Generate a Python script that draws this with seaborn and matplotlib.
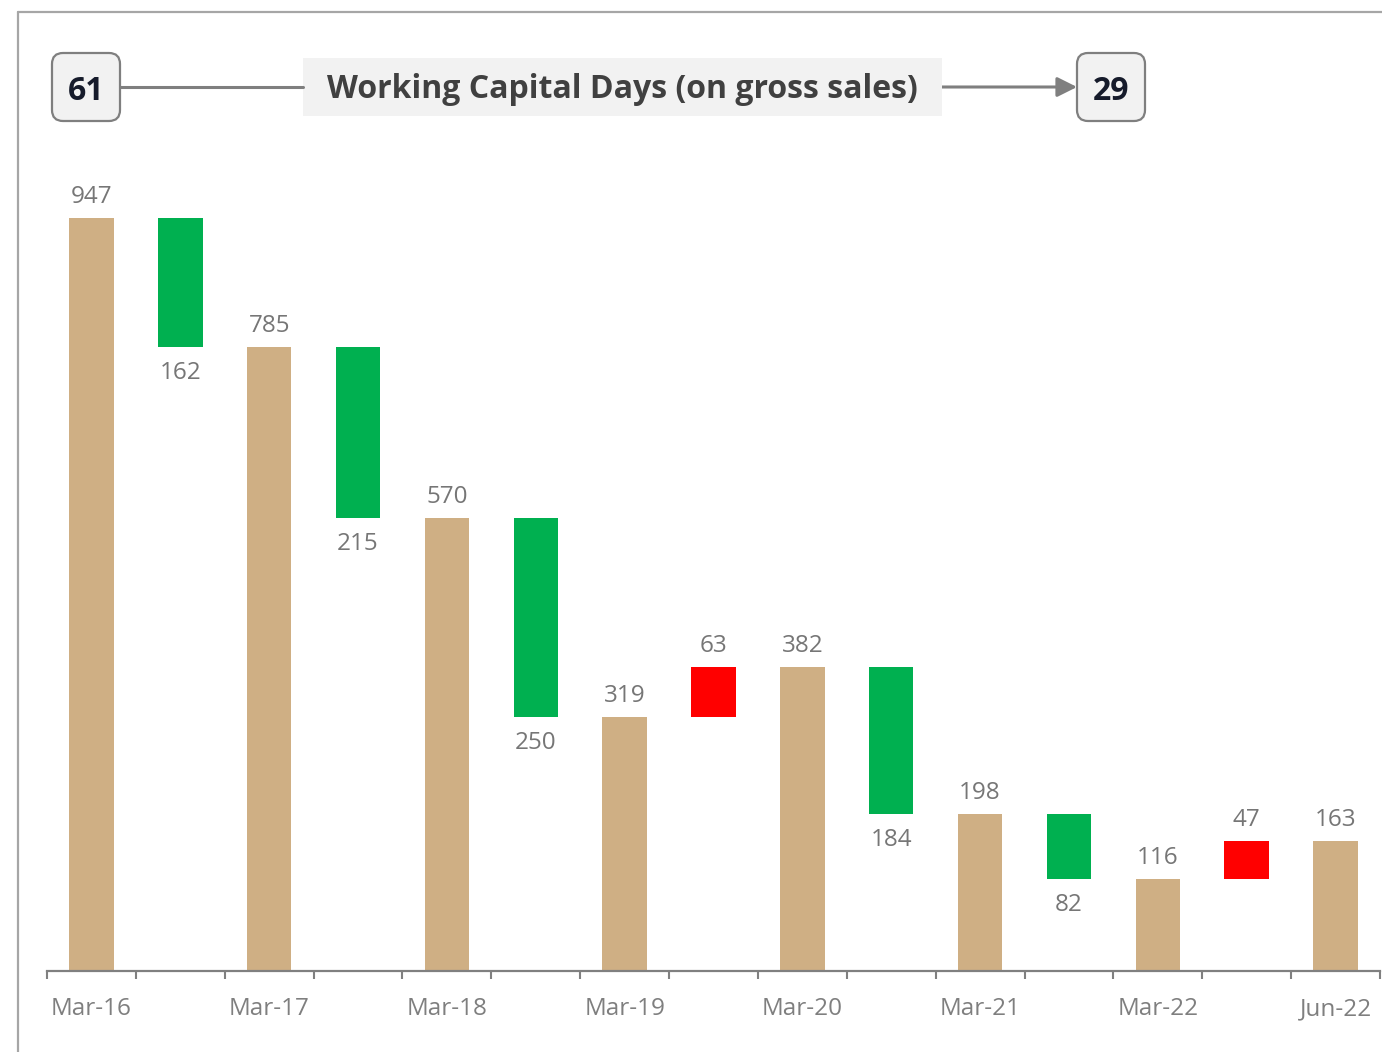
import matplotlib
matplotlib.use("Agg")
import matplotlib.pyplot as plt
import seaborn as sns
import pandas as pd
from matplotlib.patches import Rectangle, FancyBboxPatch, FancyArrowPatch
from matplotlib.lines import Line2D
from matplotlib.transforms import IdentityTransform

# ---------------- data ----------------
tick_labels = ["Mar-16", "", "Mar-17", "", "Mar-18", "", "Mar-19", "", "Mar-20", "",
               "Mar-21", "", "Mar-22", "", "Jun-22"]
values = [947, -162, 785, -215, 570, -250, 319, 63, 382, -184, 198, -82, 116, 47, 163]
kinds = ["total", "delta", "total", "delta", "total", "delta", "total", "delta", "total",
         "delta", "total", "delta", "total", "delta", "total"]
title_text = "Working Capital Days (on gross sales)"
start_days = "61"
end_days = "29"

# ---------------- derived waterfall geometry ----------------
ids = [f"c{i}" for i in range(len(values))]
tops, bottoms, colors = [], [], []
for i, (v, k) in enumerate(zip(values, kinds)):
    if k == "total":
        tops.append(v)
        bottoms.append(0)
        colors.append("#CFAF84")
    else:
        prev_t, next_t = values[i - 1], values[i + 1]
        tops.append(max(prev_t, next_t))
        bottoms.append(min(prev_t, next_t))
        colors.append("#00B050" if v < 0 else "#FF0000")

df = pd.DataFrame({"id": ids, "top": tops, "bottom": bottoms, "value": values, "kind": kinds})

# ---------------- figure ----------------
W, H = 1382, 1052
sns.set_theme(style="white")
plt.rcParams["font.family"] = ["Open Sans", "DejaVu Sans"]
fig = plt.figure(figsize=(W / 100, H / 100), dpi=100)
fig.patch.set_facecolor("white")

ax_left, ax_right, ax_bottom_px = 47, 1380, 971
ymax = 1000
px_per_unit = (971 - 218) / 947
ax_h_px = ymax * px_per_unit
ax = fig.add_axes([ax_left / W, 1 - ax_bottom_px / H, (ax_right - ax_left) / W, ax_h_px / H])

sns.barplot(data=df, x="id", y="top", hue="id", palette=colors, order=ids,
            width=0.5, legend=False, ax=ax, saturation=1, edgecolor="none", linewidth=0)
sns.barplot(data=df, x="id", y="bottom", order=ids, color="white",
            width=0.5, ax=ax, saturation=1, edgecolor="none", linewidth=0)

ax.set_xlim(-0.5, len(ids) - 0.5)
ax.set_ylim(0, ymax)
ax.set_xlabel("")
ax.set_ylabel("")
ax.set_yticks([])
for s in ["top", "right", "left"]:
    ax.spines[s].set_visible(False)
ax.spines["bottom"].set_color("#808080")
ax.spines["bottom"].set_linewidth(1.6)
ax.set_facecolor("none")

ax.set_xticks(range(len(ids)))
ax.set_xticklabels(tick_labels, fontsize=17.5, color="#7F7F7F")
ax.set_xticks([x - 0.5 for x in range(len(ids) + 1)], minor=True)
ax.tick_params(axis="x", which="major", length=0, pad=19)
ax.tick_params(axis="x", which="minor", length=6, width=1.5, color="#808080", direction="out", bottom=True)

# data labels (centre offsets in pixels converted to data units)
above = 21 / px_per_unit
below = 26 / px_per_unit
for i, row in df.iterrows():
    if row["kind"] == "total" or row["value"] > 0:
        ax.text(i, row["top"] + above, f"{abs(row['value'])}", ha="center", va="center",
                fontsize=17.5, color="#767676")
    else:
        ax.text(i, row["bottom"] - below, f"{abs(row['value'])}", ha="center", va="center",
                fontsize=17.5, color="#767676")

# ---------------- header (pixel coords) ----------------
T = IdentityTransform()

def py(y):
    return H - y

# figure frame (top & left edges visible)
fig.add_artist(Line2D([18, W + 5], [py(12), py(12)], transform=T, color="#A6A6A6", lw=1.6))
fig.add_artist(Line2D([18, 18], [py(12), -5], transform=T, color="#A6A6A6", lw=1.6))

# connector lines
fig.add_artist(Line2D([120, 303], [py(87), py(87)], transform=T, color="#7F7F7F", lw=2.2))
fig.add_artist(FancyArrowPatch((942, py(87)), (1077, py(87)), transform=T,
                               arrowstyle="-|>,head_length=0.6,head_width=0.3",
                               mutation_scale=20, color="#7F7F7F", lw=2.2, shrinkA=0, shrinkB=0))

# title box
fig.add_artist(Rectangle((303, py(116)), 639, 58, transform=T, facecolor="#F2F2F2", edgecolor="none"))
fig.text(622.5 / W, 1 - 90 / H, title_text, ha="center", va="center", fontsize=23,
         fontweight="bold", color="#404040")

# number boxes
for x0, label in [(52, start_days), (1077, end_days)]:
    fig.add_artist(FancyBboxPatch((x0, py(121)), 68, 68, transform=T,
                                  boxstyle="round,pad=0,rounding_size=11",
                                  facecolor="#F2F2F2", edgecolor="#7F7F7F", lw=1.6))
    fig.text((x0 + 34) / W, 1 - 91 / H, label, ha="center", va="center", fontsize=23,
             fontweight="bold", color="#161B2B")

fig.savefig("out.png", dpi=100)
